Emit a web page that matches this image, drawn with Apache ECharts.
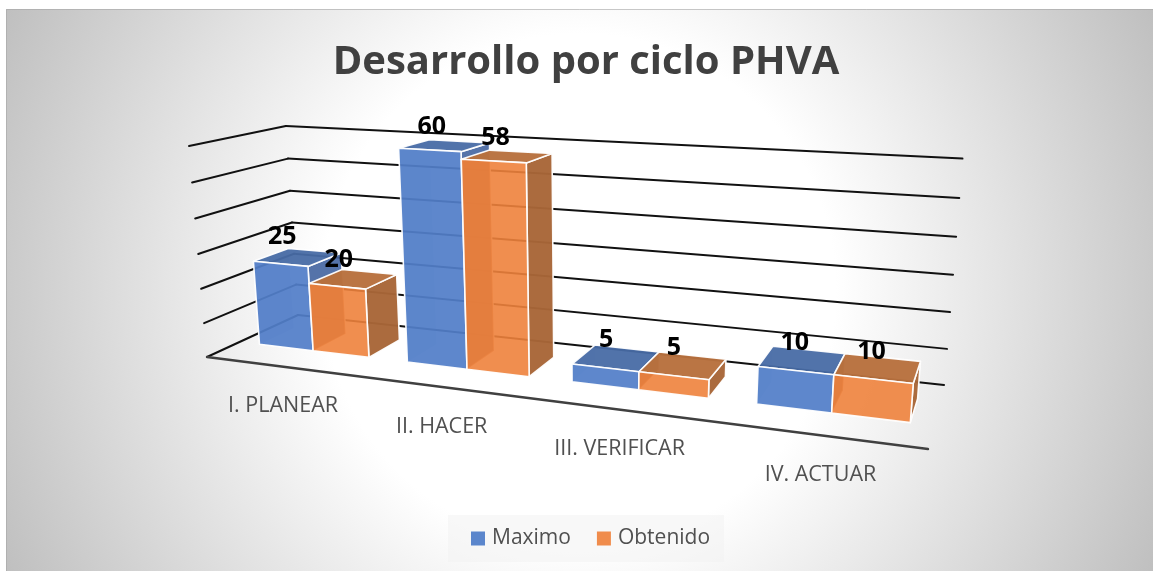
<!DOCTYPE html>
<html>
<head>
<meta charset="utf-8">
<style>
html, body { margin: 0; padding: 0; background: #fff; }
#chart { width: 1153px; height: 571px; }
</style>
<script src="https://cdn.jsdelivr.net/npm/echarts@6/dist/echarts.min.js"></script>
</head>
<body>
<div id="chart"></div>
<script>
const categories = ['I. PLANEAR', 'II. HACER', 'III. VERIFICAR', 'IV. ACTUAR'];
const maximo = [25, 60, 5, 10];
const obtenido = [20, 58, 5, 10];
const valueTicks = [0, 10, 20, 30, 40, 50, 60];

const FONT = '"Open Sans", sans-serif';

// camera of the 3D box: origin, the three axis ends and their perspective weights
const O = [207, 357], A = [928, 449], B = [189, 146], C = [298, 315];
const wu = 0.789, wv = 0.955, wd = 1.1213;
const SAG = 5; // the original is not a pure perspective, far top corner sits a bit lower

function project(u, v, d) {
    const den = 1 + u * (wu - 1) + v * (wv - 1) + d * (wd - 1);
    const p = [0, 1].map(function (i) {
        return (O[i] + u * (wu * A[i] - O[i]) + v * (wv * B[i] - O[i]) + d * (wd * C[i] - O[i])) / den;
    });
    p[1] += SAG * u * v;
    return p;
}

// plot position from the (hidden) cartesian axes to 0..1 box position
function unitX(px, sys) { return (px - sys.x) / sys.width; }
function unitY(py, sys) { return (sys.y + sys.height - py) / sys.height; }

function face(points, fill, stroke) {
    return {
        type: 'polygon',
        shape: { points: points },
        style: { fill: fill, stroke: stroke || null, lineWidth: 1.6, lineJoin: 'round' }
    };
}

function line(p, q, color, width) {
    return {
        type: 'line',
        shape: { x1: p[0], y1: p[1], x2: q[0], y2: q[1] },
        style: { stroke: color, lineWidth: width, lineCap: 'round' }
    };
}

const DEPTH_FRONT = 0.335, DEPTH_BACK = 0.72, BAND_SHARE = 0.375, BAND_SHIFT = 0.004;

function barRenderer(side, colors) {
    return function (params, api) {
        const sys = params.coordSys;
        const val = api.value(1);
        const pos = api.coord([api.value(0), val]);
        const band = api.size([1, 0])[0];
        const bw = band * BAND_SHARE;
        const x0 = pos[0] + (side < 0 ? -bw : 0);
        const u0 = unitX(x0, sys) + BAND_SHIFT, u1 = unitX(x0 + bw, sys) + BAND_SHIFT;
        const v = unitY(pos[1], sys);
        const f0 = project(u0, 0, DEPTH_FRONT), f1 = project(u1, 0, DEPTH_FRONT);
        const b0 = project(u0, 0, DEPTH_BACK), b1 = project(u1, 0, DEPTH_BACK);
        const tf0 = project(u0, v, DEPTH_FRONT), tf1 = project(u1, v, DEPTH_FRONT);
        const tb0 = project(u0, v, DEPTH_BACK), tb1 = project(u1, v, DEPTH_BACK);
        const mid = project((u0 + u1) / 2, v, (DEPTH_FRONT + DEPTH_BACK) / 2);
        const edge = 'rgba(255,255,255,0.95)';
        return {
            type: 'group',
            children: [
                face([f0, b0, tb0, tf0], colors.inner),
                face([f1, b1, tb1, tf1], colors.side, edge),
                face([tf0, tf1, tb1, tb0], colors.top, edge),
                face([f0, f1, tf1, tf0], colors.front, edge),
                {
                    type: 'text',
                    z2: 20,
                    style: {
                        text: String(val), x: mid[0] - 16 + 11 * u0, y: mid[1] - 20 + 4 * u0,
                        font: 'bold 25px ' + FONT, fill: '#000',
                        textAlign: 'center', textVerticalAlign: 'middle'
                    }
                }
            ]
        };
    };
}

const myChart = echarts.init(document.getElementById('chart'));

myChart.setOption({
    animation: false,
    graphic: [
        {
            type: 'rect',
            z: -10,
            silent: true,
            shape: { x: 6, y: 9, width: 1147, height: 562 },
            style: {
                fill: new echarts.graphic.RadialGradient(0.5, 0.5, 1.14, [
                    { offset: 0, color: '#ffffff' },
                    { offset: 0.4, color: '#ffffff' },
                    { offset: 1, color: '#bfbfbf' }
                ])
            }
        },
        {
            type: 'polyline',
            z: -9,
            silent: true,
            shape: { points: [[6.5, 571], [6.5, 9.5], [1153, 9.5]] },
            style: { fill: null, stroke: 'rgba(165,165,165,0.6)', lineWidth: 1 }
        }
    ],
    title: {
        text: 'Desarrollo por ciclo PHVA',
        left: 581, top: 38,
        textAlign: 'center',
        textStyle: { fontFamily: FONT, fontWeight: 'bold', fontSize: 40, color: '#404040' }
    },
    legend: {
        data: ['Maximo', 'Obtenido'],
        selectedMode: false,
        left: 448, top: 515,
        padding: [13, 14, 13, 23],
        itemWidth: 14, itemHeight: 14, itemGap: 26,
        icon: 'rect',
        backgroundColor: 'rgba(242,242,242,0.55)',
        textStyle: { fontFamily: FONT, fontSize: 21, color: '#505050', padding: [0, 0, 0, 2] }
    },
    grid: { left: 100, right: 100, top: 60, bottom: 60, show: false },
    xAxis: { type: 'category', data: categories, show: false },
    yAxis: { type: 'value', min: 0, max: 60, interval: 10, show: false },
    series: [
        {
            name: 'muros',
            type: 'custom',
            silent: true,
            data: valueTicks.map(function (t) { return [0, t]; }),
            encode: { x: 0, y: 1 },
            renderItem: function (params, api) {
                const sys = params.coordSys;
                const v = unitY(api.coord([0, api.value(1)])[1], sys);
                const left = project(0, v, 0), corner = project(0, v, 1), right = project(1, v, 1);
                const children = [
                    line(left, corner, '#111', 2),
                    line(corner, right, '#111', 2)
                ];
                if (v === 0) {
                    children.push(line(left, project(1, 0, 0), '#404040', 2.4));
                }
                return { type: 'group', children: children };
            }
        },
        {
            name: 'categorias',
            type: 'custom',
            silent: true,
            data: categories.map(function (c, i) { return [i, 0]; }),
            encode: { x: 0, y: 1 },
            renderItem: function (params, api) {
                const sys = params.coordSys;
                const pos = api.coord([api.value(0), 0]);
                const p = project(unitX(pos[0], sys), 0, 0);
                return {
                    type: 'text',
                    style: {
                        text: categories[api.value(0)], x: p[0] + 3, y: p[1] + 40,
                        font: '21.5px ' + FONT, fill: '#505050',
                        textAlign: 'center', textVerticalAlign: 'middle'
                    }
                };
            }
        },
        {
            name: 'Maximo',
            type: 'custom',
            silent: true,
            itemStyle: { color: '#5b86cc' },
            data: maximo.map(function (v, i) { return [i, v]; }),
            encode: { x: 0, y: 1 },
            renderItem: barRenderer(-1, {
                front: 'rgba(82,126,200,0.93)', inner: 'rgba(60,95,160,0.15)',
                side: 'rgba(66,100,160,0.9)', top: 'rgba(72,107,165,0.95)'
            })
        },
        {
            name: 'Obtenido',
            type: 'custom',
            silent: true,
            itemStyle: { color: '#f08c4c' },
            data: obtenido.map(function (v, i) { return [i, v]; }),
            encode: { x: 0, y: 1 },
            renderItem: barRenderer(1, {
                front: 'rgba(238,130,60,0.9)', inner: 'rgba(170,80,30,0.6)',
                side: 'rgba(168,102,56,0.97)', top: 'rgba(184,113,62,0.97)'
            })
        }
    ]
});
</script>
</body>
</html>
